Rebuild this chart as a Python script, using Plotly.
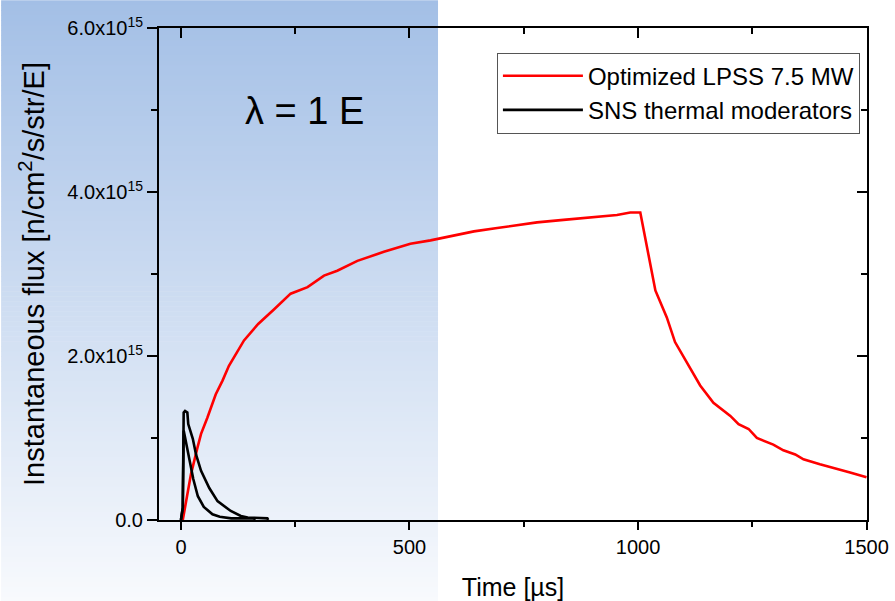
import plotly.graph_objects as go

# ---- data (time in microseconds, flux in units of 1e15) ----
t_lpss = [4, 15, 22, 36, 44, 58, 76, 91, 105, 138, 169, 204, 240, 277, 313, 342, 386, 444,
          502, 546, 590, 641, 692, 736, 779, 837, 896, 954, 983, 1005,
          1038, 1063, 1081, 1136, 1165, 1202, 1220, 1242, 1260, 1296, 1318, 1344, 1362,
          1398, 1464, 1500]
flux_lpss = [0.0, 0.37, 0.56, 0.88, 1.05, 1.25, 1.53, 1.70, 1.88, 2.19, 2.39, 2.57, 2.76,
             2.84, 2.98, 3.04, 3.16, 3.27, 3.37, 3.41, 3.46, 3.52, 3.56, 3.60, 3.63, 3.66,
             3.69, 3.72, 3.75, 3.75,
             2.80, 2.47, 2.17, 1.64, 1.43, 1.27, 1.17, 1.11, 1.00, 0.92, 0.85, 0.80, 0.74,
             0.68, 0.58, 0.52]

t_sns_a = [0, 4, 6, 9, 14, 16, 26, 33, 44, 62, 80, 109, 131, 146, 189, 191]
flux_sns_a = [0.0, 0.15, 1.31, 1.33, 1.31, 1.17, 0.99, 0.80, 0.60, 0.39, 0.23, 0.11,
              0.05, 0.03, 0.02, 0.0]

t_sns_b = [0, 4, 6, 11, 19, 27, 37, 50, 69, 85, 110, 160, 162]
flux_sns_b = [0.0, 0.15, 1.09, 0.95, 0.70, 0.50, 0.29, 0.16, 0.07, 0.04, 0.02, 0.02, 0.0]

scale = 1e15
y_tickvals = [0, 2, 4, 6]
y_ticktext = ["0.0", "2.0x10<sup>15</sup>", "4.0x10<sup>15</sup>", "6.0x10<sup>15</sup>"]
x_tickvals = [0, 500, 1000, 1500]

FONT = "Liberation Sans, Arial, sans-serif"

fig = go.Figure()
fig.add_trace(go.Scatter(x=t_lpss, y=[v * scale for v in flux_lpss], mode="lines",
                         line=dict(color="#ff0000", width=2.6),
                         name="Optimized LPSS 7.5 MW"))
fig.add_trace(go.Scatter(x=t_sns_a, y=[v * scale for v in flux_sns_a], mode="lines",
                         line=dict(color="#000000", width=2.6),
                         name="SNS thermal moderators"))
fig.add_trace(go.Scatter(x=t_sns_b, y=[v * scale for v in flux_sns_b], mode="lines",
                         line=dict(color="#000000", width=2.6),
                         name="SNS thermal moderators", showlegend=False))

# ---- canvas (slightly enlarged to compensate the page scaling observed) ----
W, H = 901, 609
ml, mr, mt, mb = 159, 29, 28, 83
pw, ph = W - ml - mr, H - mt - mb
grad_right = 440
top_c = (163, 191, 230)
bot_c = (248, 250, 253)
n = 120
shapes = []
for i in range(n):
    y0px = H * i / n
    y1px = H * (i + 1) / n + 0.6
    f = (i + 0.5) / n
    c = tuple(round(top_c[k] + (bot_c[k] - top_c[k]) * f) for k in range(3))
    shapes.append(dict(type="rect", xref="paper", yref="paper", layer="below",
                       x0=(0 - ml) / pw, x1=(grad_right - ml) / pw,
                       y0=(H - mb - y1px) / ph, y1=(H - mb - y0px) / ph,
                       line=dict(width=0), fillcolor="rgb(%d,%d,%d)" % c))

axis_common = dict(showline=True, linecolor="black", linewidth=2, showgrid=False,
                   zeroline=False, tickcolor="black", tickwidth=2)

fig.update_layout(
    width=W, height=H,
    margin=dict(l=ml, r=mr, t=mt, b=mb, pad=0),
    paper_bgcolor="white", plot_bgcolor="rgba(0,0,0,0)",
    font=dict(family=FONT, color="black"),
    shapes=shapes,
    showlegend=True,
    legend=dict(x=0.99, y=0.95, xanchor="right", yanchor="top",
                bgcolor="white", bordercolor="#555555", borderwidth=1,
                font=dict(size=24, family=FONT), tracegroupgap=0,
                itemwidth=80),
    xaxis=dict(range=[-48, 1501], tickvals=x_tickvals, ticks="outside", ticklen=8,
               tickfont=dict(size=20),
               minor=dict(tickvals=[250, 750, 1250], ticks="outside", ticklen=5,
                          tickwidth=2, tickcolor="black"),
               title=dict(text="Time [\u00b5s]", font=dict(size=25), standoff=21),
               **axis_common),
    yaxis=dict(range=[0, 6e15], tickvals=[v * scale for v in y_tickvals],
               ticktext=y_ticktext, ticks="outside", ticklen=10,
               tickfont=dict(size=20),
               minor=dict(tickvals=[1e15, 3e15, 5e15], ticks="outside", ticklen=6,
                          tickwidth=2, tickcolor="black"),
               title=dict(text="Instantaneous flux [n/cm<sup>2</sup>/s/str/E]",
                          font=dict(size=29), standoff=14),
               **axis_common),
    xaxis2=dict(overlaying="x", side="top", matches="x", range=[-48, 1501],
                tickvals=x_tickvals, ticks="inside", ticklen=10, showticklabels=False,
                minor=dict(tickvals=[250, 750, 1250], ticks="inside", ticklen=6,
                           tickwidth=2, tickcolor="black"),
                **axis_common),
    yaxis2=dict(overlaying="y", side="right", matches="y", range=[0, 6e15],
                tickvals=[v * scale for v in y_tickvals], ticks="inside", ticklen=10,
                showticklabels=False,
                minor=dict(tickvals=[1e15, 3e15, 5e15], ticks="inside", ticklen=6,
                           tickwidth=2, tickcolor="black"),
                **axis_common),
    annotations=[dict(text="\u03bb = 1 E", xref="paper", yref="paper",
                      x=(306 - ml) / pw, y=(H - mb - 112) / ph,
                      xanchor="center", yanchor="middle",
                      showarrow=False, font=dict(size=38, family=FONT))],
)

# invisible trace to activate the mirror axes
fig.add_trace(go.Scatter(x=[0], y=[0], xaxis="x2", yaxis="y2", mode="markers",
                         marker=dict(opacity=0), showlegend=False, hoverinfo="skip"))

post = ("var d=document.getElementById('{plot_id}');"
        "d.style.position='fixed';d.style.left='0px';d.style.top='0px';"
        "document.body.style.margin='0';document.body.style.overflow='hidden';")
fig.write_html("out.html", config={"displayModeBar": False, "responsive": False},
               post_script=post)
